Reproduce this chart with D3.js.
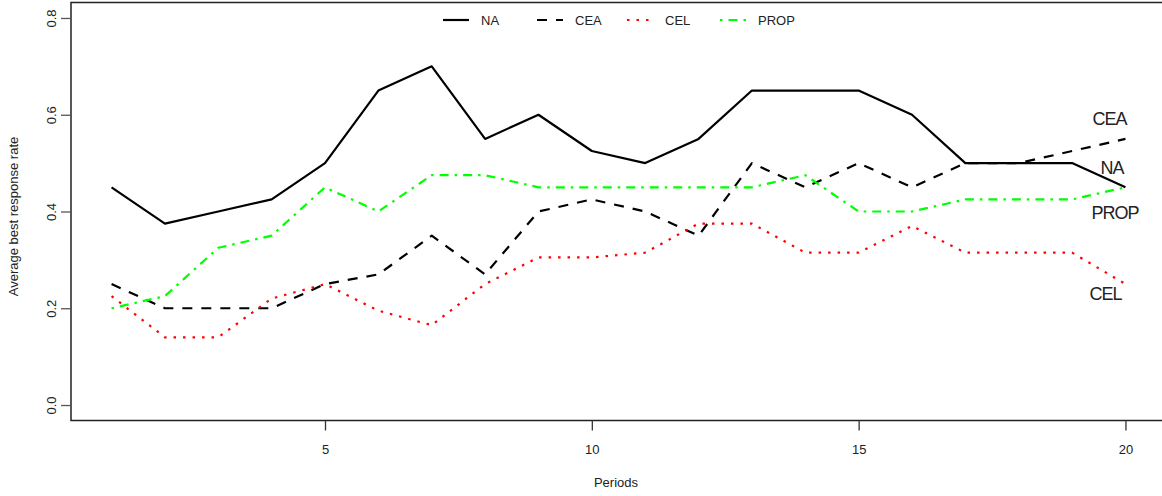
<!DOCTYPE html>
<html>
<head>
<meta charset="utf-8">
<script src="https://cdn.jsdelivr.net/npm/d3@7"></script>
<style>
  html, body { margin: 0; padding: 0; background: #fff; }
  svg { display: block; font-family: "Liberation Sans", Arial, sans-serif; }
</style>
</head>
<body>
<svg id="chart" width="1162" height="496"></svg>
<script>
// Average best response rate by period for each treatment
const periods = d3.range(1, 21);
const naValues   = [0.45, 0.375, 0.4, 0.425, 0.5, 0.65, 0.7, 0.55, 0.6, 0.525, 0.5, 0.55, 0.65, 0.65, 0.65, 0.6, 0.5, 0.5, 0.5, 0.45];
const ceaValues  = [0.25, 0.2, 0.2, 0.2, 0.25, 0.27, 0.35, 0.27, 0.4, 0.425, 0.4, 0.35, 0.5, 0.45, 0.5, 0.45, 0.5, 0.5, 0.525, 0.55];
const celValues  = [0.225, 0.14, 0.14, 0.22, 0.25, 0.195, 0.165, 0.25, 0.305, 0.305, 0.315, 0.375, 0.375, 0.315, 0.315, 0.37, 0.315, 0.315, 0.315, 0.25];
const propValues = [0.2, 0.225, 0.325, 0.35, 0.45, 0.4, 0.475, 0.475, 0.45, 0.45, 0.45, 0.45, 0.45, 0.475, 0.4, 0.4, 0.425, 0.425, 0.425, 0.45];
const xTicks = [5, 10, 15, 20];
const yTicks = [0, 0.2, 0.4, 0.6, 0.8];

const series = [
  { name: "NA",   values: naValues,   color: "#000000", dash: null },
  { name: "CEA",  values: ceaValues,  color: "#000000", dash: "10,9" },
  { name: "CEL",  values: celValues,  color: "#ff0000", dash: "2.5,7" },
  { name: "PROP", values: propValues, color: "#00ff00", dash: "2.5,6,9,6" }
];

// end-of-line labels (text placement offsets in px)
const endLabels = [
  { name: "CEA",  dx: -33, dy: -14 },
  { name: "NA",   dx: -25, dy: -13 },
  { name: "PROP", dx: -34, dy: 32 },
  { name: "CEL",  dx: -36, dy: 16 }
];

const svg = d3.select("#chart");

// plot region with 4% padding beyond the data range on each side
const x = d3.scaleLinear().domain([0.24, 20.76]).range([71, 1166]);
const y = d3.scaleLinear().domain([-0.032, 0.832]).range([420.5, 2.5]);

// frame
svg.append("rect")
  .attr("x", x.range()[0]).attr("y", y.range()[1])
  .attr("width", x.range()[1] - x.range()[0])
  .attr("height", y.range()[0] - y.range()[1])
  .attr("fill", "none").attr("stroke", "#222").attr("stroke-width", 1.5);

// x axis
const xAxis = svg.append("g")
  .attr("transform", `translate(0,${y.range()[0]})`)
  .call(d3.axisBottom(x).tickValues(xTicks).tickSize(10).tickPadding(14).tickFormat(d3.format("d")));
xAxis.select(".domain").remove();
xAxis.selectAll("line").attr("stroke", "#333").attr("stroke-width", 1.3);
xAxis.selectAll("text").attr("font-size", 13).attr("fill", "#222")
  .attr("font-family", "Liberation Sans, Arial, sans-serif");

// y axis with labels drawn parallel to the axis
const yAxis = svg.append("g")
  .attr("transform", `translate(${x.range()[0]},0)`)
  .call(d3.axisLeft(y).tickValues(yTicks).tickSize(10).tickFormat(d3.format(".1f")));
yAxis.select(".domain").remove();
yAxis.selectAll("line").attr("stroke", "#555").attr("stroke-width", 1.3);
yAxis.selectAll("text")
  .attr("font-size", 13).attr("fill", "#222")
  .attr("font-family", "Liberation Sans, Arial, sans-serif")
  .attr("x", null).attr("dy", null)
  .attr("text-anchor", "middle")
  .attr("transform", "translate(-20,0) rotate(-90)")
  .attr("dominant-baseline", "central");

// axis titles
svg.append("text")
  .attr("x", 616).attr("y", 487)
  .attr("text-anchor", "middle")
  .attr("font-size", 13).attr("fill", "#222")
  .text("Periods");
svg.append("text")
  .attr("transform", `translate(18,${(y.range()[0] + y.range()[1]) / 2 + 5}) rotate(-90)`)
  .attr("text-anchor", "middle")
  .attr("font-size", 13).attr("fill", "#222")
  .text("Average best response rate");

// series lines
const line = d3.line()
  .x((d, i) => x(periods[i]))
  .y(d => y(d));

series.forEach(s => {
  svg.append("path")
    .datum(s.values)
    .attr("d", line)
    .attr("fill", "none")
    .attr("stroke", s.color)
    .attr("stroke-width", 2.2)
    .attr("stroke-dasharray", s.dash)
    .attr("stroke-linejoin", "round");
});

// legend along the top
const legendX = [443, 537, 627, 720];
const legend = svg.append("g");
series.forEach((s, i) => {
  legend.append("line")
    .attr("x1", legendX[i]).attr("x2", legendX[i] + 26)
    .attr("y1", 20).attr("y2", 20)
    .attr("stroke", s.color).attr("stroke-width", 2.2)
    .attr("stroke-dasharray", s.dash);
  legend.append("text")
    .attr("x", legendX[i] + 38).attr("y", 25)
    .attr("font-size", 13).attr("fill", "#222")
    .text(s.name);
});

// labels at line ends
endLabels.forEach(l => {
  const s = series.find(d => d.name === l.name);
  const last = s.values[s.values.length - 1];
  svg.append("text")
    .attr("x", x(periods[periods.length - 1]) + l.dx)
    .attr("y", y(last) + l.dy)
    .attr("font-size", 18)
    .attr("letter-spacing", -1)
    .attr("fill", "#222")
    .text(l.name);
});
</script>
</body>
</html>
